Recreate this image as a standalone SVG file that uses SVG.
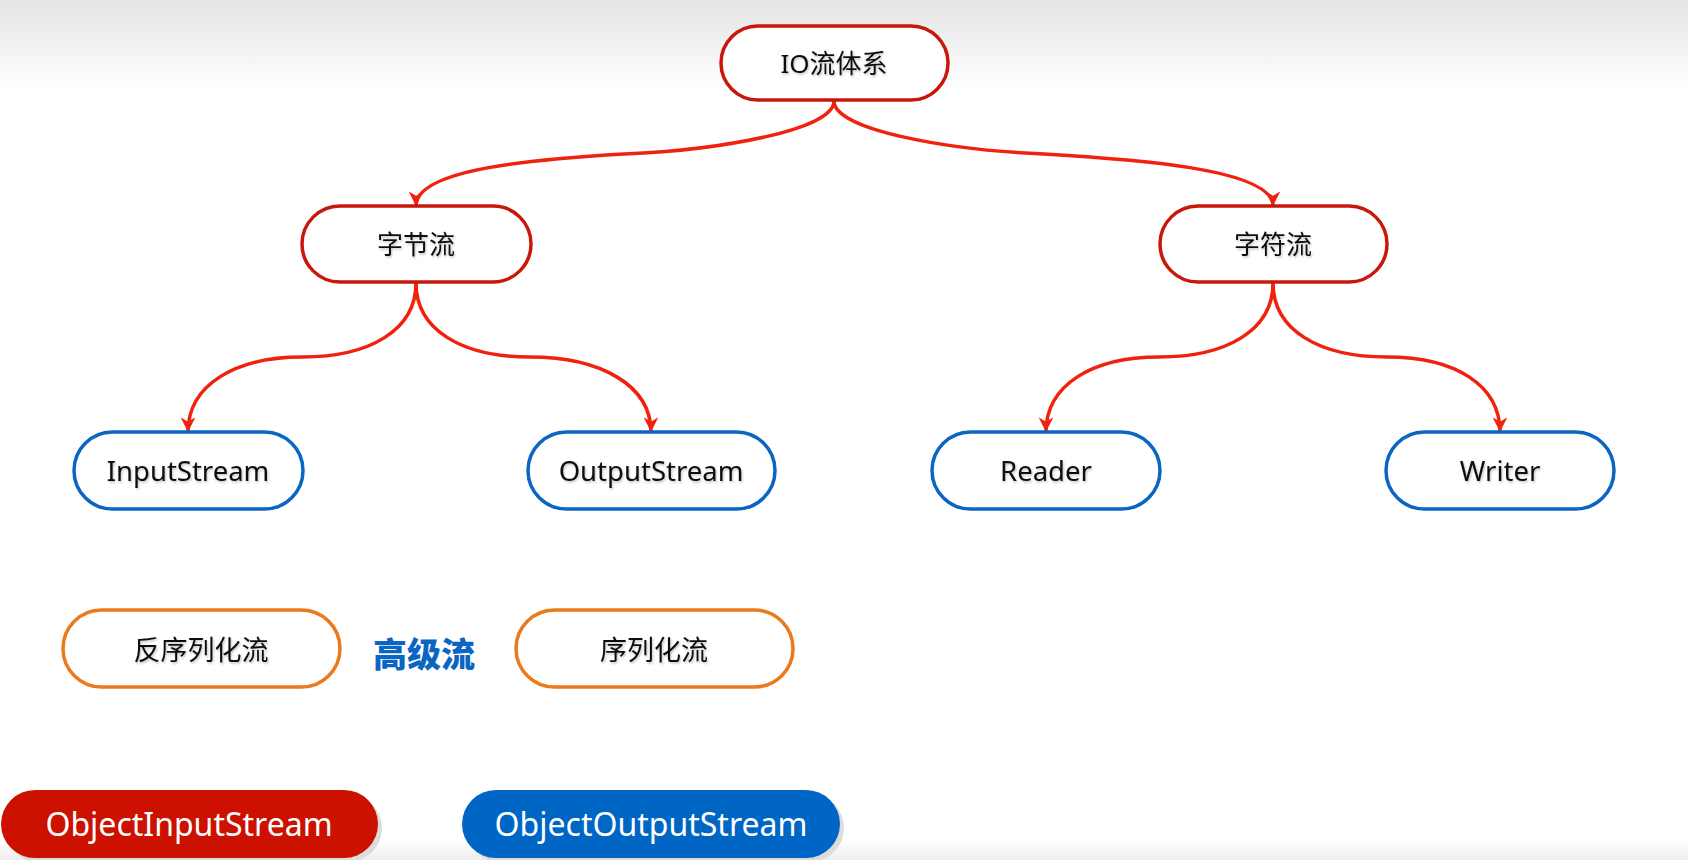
<svg xmlns="http://www.w3.org/2000/svg" width="1688" height="860" viewBox="0 0 1688 860">
<defs>
<linearGradient id="topbg" x1="0" y1="0" x2="0" y2="1">
<stop offset="0" stop-color="#e4e4e4"/>
<stop offset="1" stop-color="#ffffff"/>
</linearGradient>
<linearGradient id="botbg" x1="0" y1="0" x2="0" y2="1">
<stop offset="0" stop-color="#ffffff"/>
<stop offset="1" stop-color="#eeeeee"/>
</linearGradient>
<marker id="arr" viewBox="0 0 10 10" refX="10" refY="5" markerWidth="4.2" markerHeight="4.2" orient="auto" markerUnits="strokeWidth">
<path d="M0,0 L10,5 L0,10 L3,5 z" fill="#f0220e"/>
</marker>
<filter id="ts" x="-10%" y="-20%" width="120%" height="140%">
<feDropShadow dx="1" dy="1.5" stdDeviation="1" flood-color="#000" flood-opacity="0.25"/>
</filter>
</defs>
<style>
.red{fill:#fff;stroke:#c8180c;stroke-width:3.5}
.blue{fill:#fff;stroke:#0a66c2;stroke-width:3.5}
.orange{fill:#fff;stroke:#ea7a1c;stroke-width:3.5}
.t{font-family:"Noto Sans","Noto Sans CJK SC",sans-serif;font-size:26px;fill:#111;text-anchor:middle;dominant-baseline:central}
.w{font-family:"Noto Sans","Noto Sans CJK SC",sans-serif;font-size:32px;fill:#fff;text-anchor:middle;dominant-baseline:central}
.edge{fill:none;stroke:#f0220e;stroke-width:3.5;marker-end:url(#arr)}
</style>
<rect x="0" y="0" width="1688" height="860" fill="#fff"/>
<rect x="0" y="0" width="1688" height="90" fill="url(#topbg)"/>
<rect x="0" y="840" width="1688" height="20" fill="url(#botbg)"/>
<g id="connectors">
<path class="edge" d="M834 101 C834 130 720 150 624 154 C540 159 416 168 416 206"/>
<path class="edge" d="M834 101 C834 130 948 150 1044 154 C1128 159 1273 168 1273 206"/>
<path class="edge" d="M416 283 C416 330 370 357 302 357 C235 357 188 385 188 432"/>
<path class="edge" d="M416 283 C416 330 462 357 530 357 C600 357 651 385 651 432"/>
<path class="edge" d="M1273 283 C1273 330 1227 357 1159 357 C1092 357 1046 385 1046 432"/>
<path class="edge" d="M1273 283 C1273 330 1319 357 1387 357 C1455 357 1500 385 1500 432"/>
</g>
<g id="io"><rect class="red" x="721" y="26" width="227" height="74" rx="37"/><text class="t" x="834" y="63" filter="url(#ts)">IO流体系</text></g>
<g id="byte"><rect class="red" x="302" y="206" width="229" height="76" rx="38"/><text class="t" x="416" y="244" filter="url(#ts)">字节流</text></g>
<g id="char"><rect class="red" x="1160" y="206" width="227" height="76" rx="38"/><text class="t" x="1273" y="244" filter="url(#ts)">字符流</text></g>
<g id="inputstream"><rect class="blue" x="74" y="432" width="229" height="77" rx="38.5"/><text class="t" x="188" y="470" style="font-size:27.5px" filter="url(#ts)">InputStream</text></g>
<g id="outputstream"><rect class="blue" x="528" y="432" width="247" height="77" rx="38.5"/><text class="t" x="651" y="470" style="font-size:27.5px" filter="url(#ts)">OutputStream</text></g>
<g id="reader"><rect class="blue" x="932" y="432" width="228" height="77" rx="38.5"/><text class="t" x="1046" y="470" style="font-size:27.5px" filter="url(#ts)">Reader</text></g>
<g id="writer"><rect class="blue" x="1386" y="432" width="228" height="77" rx="38.5"/><text class="t" x="1500" y="470" style="font-size:27.5px" filter="url(#ts)">Writer</text></g>
<g id="deser"><rect class="orange" x="63" y="610" width="277" height="77" rx="38.5"/><text class="t" x="201" y="649" style="font-size:27px" filter="url(#ts)">反序列化流</text></g>
<g id="advanced"><text x="424" y="652" style="font-family:'Noto Sans CJK SC',sans-serif;font-weight:900;font-size:34px;fill:#0a66c2;text-anchor:middle;dominant-baseline:central">高级流</text></g>
<g id="ser"><rect class="orange" x="516" y="610" width="277" height="77" rx="38.5"/><text class="t" x="654" y="649" style="font-size:27px" filter="url(#ts)">序列化流</text></g>
<g id="ois"><rect x="5" y="794" width="377" height="68" rx="34" fill="#dcdcdc"/><rect x="1" y="790" width="377" height="68" rx="34" fill="#cc1100"/><text class="w" x="189" y="823">ObjectInputStream</text></g>
<g id="oos"><rect x="466" y="794" width="378" height="68" rx="34" fill="#dcdcdc"/><rect x="462" y="790" width="378" height="68" rx="34" fill="#0066c6"/><text class="w" x="651" y="823">ObjectOutputStream</text></g>
</svg>
